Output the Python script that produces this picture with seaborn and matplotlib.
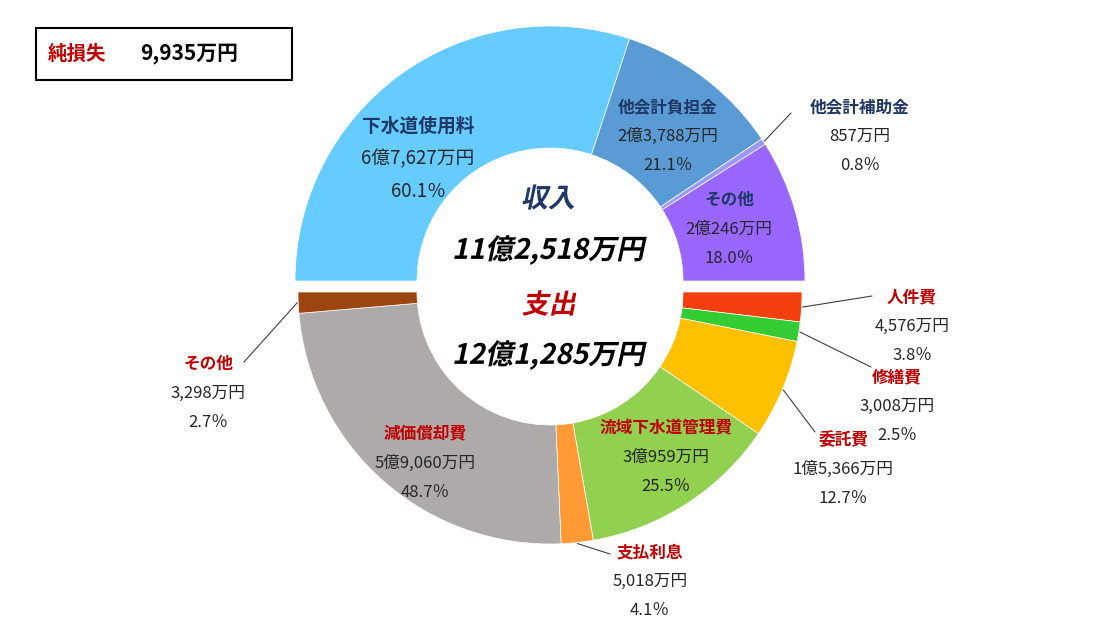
import numpy as np
import matplotlib
matplotlib.use("Agg")
import matplotlib.pyplot as plt
import seaborn as sns
from matplotlib.font_manager import FontProperties
from matplotlib.patches import PathPatch, Rectangle
from matplotlib.textpath import TextPath
from matplotlib.transforms import Affine2D

# --- données ---
income_labels = ["下水道使用料", "他会計負担金", "他会計補助金", "その他"]
income_amounts = ["6億7,627万円", "2億3,788万円", "857万円", "2億246万円"]
income_pct = [60.1, 21.1, 0.8, 18.0]
income_colors = ["#66CCFF", "#5B9BD5", "#9999FF", "#9966FF"]

expense_labels = ["人件費", "修繕費", "委託費", "流域下水道管理費", "支払利息", "減価償却費", "その他"]
expense_amounts = ["4,576万円", "3,008万円", "1億5,366万円", "3億959万円",
                   "5,018万円", "5億9,060万円", "3,298万円"]
expense_pct = [3.8, 2.5, 12.7, 25.5, 4.1, 48.7, 2.7]
expense_colors = ["#F4400E", "#33CC33", "#FFC000", "#92D050", "#FF9933", "#AEAAAA", "#9C4510"]

income_total = "11億2,518万円"
expense_total = "12億1,285万円"
net_loss = "9,935万円"

sns.set_theme(style="white")
plt.rcParams["font.family"] = ["Noto Sans CJK JP", "DejaVu Sans"]

W, H = 1094, 642
NAVY = "#1F3864"
RED = "#C00000"
GREY = "#262626"


def py(y):
    return H - y


fig = plt.figure(figsize=(W / 100, H / 100), dpi=100)
ax = fig.add_axes([0, 0, 1, 1])

# --- demi-anneaux ---
cx = 550
top_c, top_r, top_w = (cx, py(281)), 255, 122
bot_c, bot_r, bot_w = (cx, py(292)), 252, 119

wedges_in, _ = ax.pie(income_pct + [sum(income_pct)], colors=income_colors + ["none"],
                      startangle=180, counterclock=False, center=top_c, radius=top_r,
                      wedgeprops=dict(width=top_w, edgecolor="white", linewidth=0.5))
wedges_in[-1].set_visible(False)

wedges_out, _ = ax.pie(expense_pct + [sum(expense_pct)], colors=expense_colors + ["none"],
                       startangle=0, counterclock=False, center=bot_c, radius=bot_r,
                       wedgeprops=dict(width=bot_w, edgecolor="white", linewidth=0.5))
wedges_out[-1].set_visible(False)

ax.set_xlim(0, W)
ax.set_ylim(0, H)
ax.set_aspect("equal")
ax.axis("off")


def mid_point(wedge, r):
    a = np.deg2rad((wedge.theta1 + wedge.theta2) / 2)
    return wedge.center[0] + r * np.cos(a), wedge.center[1] + r * np.sin(a)


# --- étiquettes ---
income_pos = [(418, 126, 13.5), (668, 107, 12), (860, 107, 12), (729, 200, 12)]
expense_pos = [(912, 297, 12), (897, 377, 12), (843, 440, 12), (666, 428, 12),
               (650, 552, 12), (425, 434, 12), (208, 364, 12)]


def draw_label(x, y, fs, name, amount, pct, color):
    gap = fs * 2.43
    ax.text(x, py(y), name, ha="center", va="center", fontsize=fs,
            fontweight="bold", color=color)
    ax.text(x, py(y + gap), amount, ha="center", va="center", fontsize=fs, color=GREY)
    ax.text(x, py(y + 2 * gap), f"{pct:.1f}％", ha="center", va="center",
            fontsize=fs, color=GREY)


for (x, y, fs), n, a, p in zip(income_pos, income_labels, income_amounts, income_pct):
    draw_label(x, y, fs, n, a, p, NAVY)
for (x, y, fs), n, a, p in zip(expense_pos, expense_labels, expense_amounts, expense_pct):
    draw_label(x, y, fs, n, a, p, RED)

# lignes de rappel (segment -> étiquette)
leaders = [(wedges_in[2], (791, 113)), (wedges_out[0], (872, 296)),
           (wedges_out[1], (871, 367)), (wedges_out[2], (815, 432)),
           (wedges_out[4], (610, 554)), (wedges_out[6], (244, 362))]
for w, (ex, ey) in leaders:
    sx, sy = mid_point(w, w.r + 1)
    ax.plot([sx, ex], [sy, py(ey)], color="#404040", lw=0.8)


# --- textes centraux (italique simulé) ---
def skew_text(x, y, s, size_px, color):
    fp = FontProperties(family="Noto Sans CJK JP", weight="bold")
    tp = TextPath((0, 0), s, size=size_px, prop=fp)
    bb = tp.get_extents()
    tr = (Affine2D().translate(-(bb.x0 + bb.x1) / 2, -(bb.y0 + bb.y1) / 2)
          .skew_deg(12, 0).translate(x, py(y)))
    ax.add_patch(PathPatch(tr.transform_path(tp), fc=color, ec="none"))


skew_text(cx, 197, "収入", 27, NAVY)
skew_text(cx, 250, income_total, 28, "black")
skew_text(cx, 303, "支出", 27, RED)
skew_text(cx, 355, expense_total, 28, "black")

# --- encadré ---
ax.add_patch(Rectangle((36, py(80)), 256, 52, fill=False, ec="black", lw=1.5))
ax.text(48, py(54), "純損失", ha="left", va="center", fontsize=14,
        fontweight="bold", color=RED)
ax.text(140, py(54), net_loss, ha="left", va="center", fontsize=15,
        fontweight="bold", color="black")

fig.savefig("out.png", dpi=100)
